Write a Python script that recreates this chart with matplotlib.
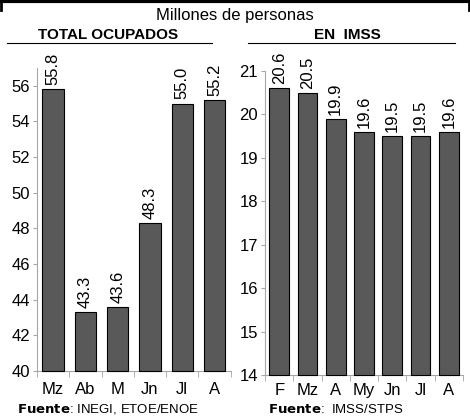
import numpy as np
import matplotlib.pyplot as plt
from matplotlib.lines import Line2D

plt.rcParams['font.family'] = ['Liberation Sans', 'DejaVu Sans']

# Datos
meses_ocup = ["Mz", "Ab", "M", "Jn", "Jl", "A"]
ocupados = [55.8, 43.3, 43.6, 48.3, 55.0, 55.2]

meses_imss = ["F", "Mz", "A", "My", "Jn", "Jl", "A"]
imss = [20.6, 20.5, 19.9, 19.6, 19.5, 19.5, 19.6]

fig = plt.figure(figsize=(4.70, 4.17), dpi=100)

bar_color = "#595959"
spine_color = "#a6a6a6"


def panel(ax, labels, values, ylim, yticks, width, pad):
    x = np.arange(len(labels))
    base = ylim[0]
    ax.bar(x, np.array(values) - base, bottom=base, width=width, color=bar_color,
           edgecolor="black", linewidth=0.8, clip_on=False, zorder=3)
    ax.set_ylim(*ylim)
    ax.set_xlim(-0.5, len(labels) - 0.5)
    ax.set_yticks(yticks)
    ax.set_xticks(x)
    ax.set_xticklabels(labels)
    ax.set_xticks(np.arange(len(labels) + 1) - 0.5, minor=True)
    ax.tick_params(axis="x", which="major", length=0, pad=pad, labelsize=12)
    ax.tick_params(axis="x", which="minor", length=4, color=spine_color)
    ax.tick_params(axis="y", length=3, color=spine_color, labelsize=12, pad=2)
    for s in ["top", "right"]:
        ax.spines[s].set_visible(False)
    for s in ["left", "bottom"]:
        ax.spines[s].set_color(spine_color)
    for xi, v in zip(x, values):
        ax.annotate(f"{v:.1f}", (xi, v), xytext=(0, 3), textcoords="offset points",
                    rotation=90, ha="center", va="bottom", fontsize=12,
                    annotation_clip=False)


ax1 = fig.add_axes([0.0787, 0.110, 0.412, 0.727])
panel(ax1, meses_ocup, ocupados, (40, 57), np.arange(40, 57, 2), 0.66, 8)

ax2 = fig.add_axes([0.564, 0.1007, 0.421, 0.729])
panel(ax2, meses_imss, imss, (14, 21), np.arange(14, 22, 1), 0.7, 6)

# Encabezados
fig.text(0.5, 0.962, "Millones de personas", ha="center", va="center", fontsize=12)
fig.text(0.23, 0.915, "TOTAL OCUPADOS", ha="center", va="center",
         fontsize=11, fontweight="bold")
fig.text(0.74, 0.915, "EN  IMSS", ha="center", va="center",
         fontsize=11, fontweight="bold")
fig.add_artist(Line2D([0.015, 0.451], [0.897, 0.897], color="black", lw=0.8))
fig.add_artist(Line2D([0.528, 0.968], [0.897, 0.897], color="black", lw=0.8))

# Marco superior
fig.add_artist(Line2D([0.002, 0.998], [0.997, 0.997], color="black", lw=3))
fig.add_artist(Line2D([0.002, 0.002], [0.975, 0.997], color="black", lw=2))
fig.add_artist(Line2D([0.998, 0.998], [0.975, 0.997], color="black", lw=2))

# Fuentes
fig.text(0.036, 0.002, r"$\bf{Fuente}$: INEGI, ETOE/ENOE", fontsize=9.5, va="bottom")
fig.text(0.57, 0.002, r"$\bf{Fuente}$:  IMSS/STPS", fontsize=9.5, va="bottom")

fig.savefig("out.png", dpi=100)
